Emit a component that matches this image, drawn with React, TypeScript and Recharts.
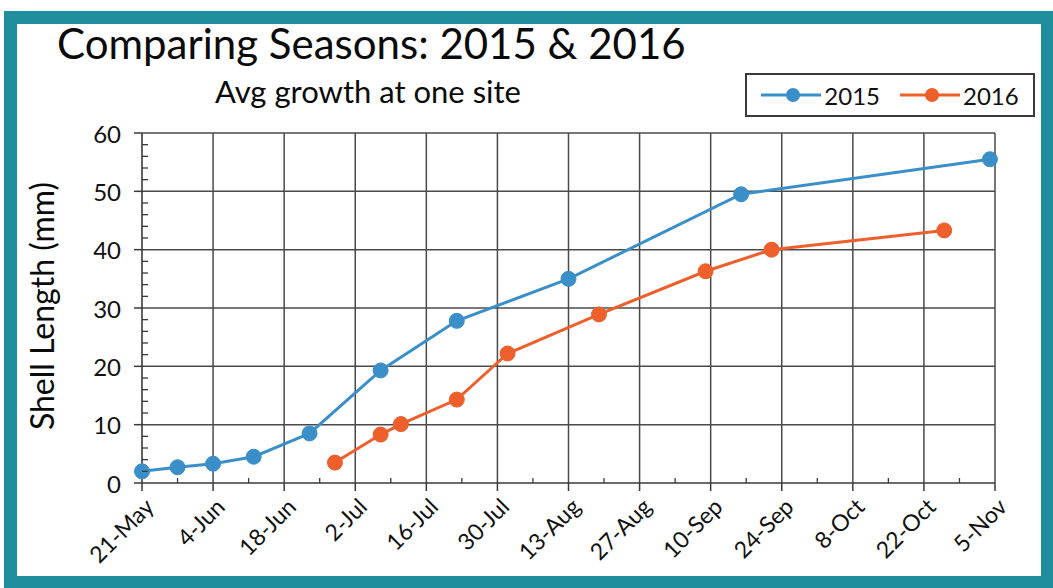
import { LineChart, Line, XAxis, YAxis, ReferenceLine, Legend } from 'recharts';

const MONTHS = ['Jan', 'Feb', 'Mar', 'Apr', 'May', 'Jun', 'Jul', 'Aug', 'Sep', 'Oct', 'Nov', 'Dec'];

const tickLabels = ['21-May', '4-Jun', '18-Jun', '2-Jul', '16-Jul', '30-Jul', '13-Aug', '27-Aug', '10-Sep', '24-Sep', '8-Oct', '22-Oct', '5-Nov'];
const yTicks = [0, 10, 20, 30, 40, 50, 60];

const dates2015 = ['21-May', '28-May', '4-Jun', '12-Jun', '23-Jun', '7-Jul', '22-Jul', '13-Aug', '16-Sep', '4-Nov'];
const lengths2015 = [2.0, 2.7, 3.3, 4.5, 8.5, 19.3, 27.8, 35.0, 49.5, 55.5];

const dates2016 = ['28-Jun', '7-Jul', '11-Jul', '22-Jul', '1-Aug', '19-Aug', '9-Sep', '22-Sep', '26-Oct'];
const lengths2016 = [3.5, 8.3, 10.1, 14.3, 22.2, 28.9, 36.3, 40.0, 43.3];

const BLUE = '#3a8fc9';
const ORANGE = '#ee5f2c';
const TEAL = '#1f8e9c';
const INK = '#3a3a3a';
const FONT = 'Lato, "Open Sans", sans-serif';

// days since the first tick, same calendar for both seasons
const toDay = (s: string) => {
  const [d, m] = s.split('-');
  const start = Date.UTC(2015, 4, 21);
  return Math.round((Date.UTC(2015, MONTHS.indexOf(m), Number(d)) - start) / 86400000);
};

const majorX = tickLabels.map(toDay);
const minorX = majorX.slice(0, -1).map((d) => d + 7);
const allX = [...majorX, ...minorX].sort((a, b) => a - b);
const allY = Array.from({ length: 31 }, (_, i) => i * 2);

const series2015 = dates2015.map((d, i) => ({ day: toDay(d), len: lengths2015[i] }));
const series2016 = dates2016.map((d, i) => ({ day: toDay(d), len: lengths2016[i] }));

function XTick(props: any) {
  const { x, y, payload } = props;
  const idx = majorX.indexOf(payload.value);
  if (idx < 0) {
    return <line x1={x} y1={y} x2={x} y2={y - 5} stroke={INK} strokeWidth={1.3} />;
  }
  return (
    <g>
      <line x1={x} y1={y} x2={x} y2={y + 8} stroke={INK} strokeWidth={1.5} />
      <text
        x={x + 7}
        y={y + 19}
        transform={`rotate(-45, ${x + 7}, ${y + 19})`}
        textAnchor="end"
        dominantBaseline="central"
        fontSize={23}
        fontFamily={FONT}
        fill="#111"
      >
        {tickLabels[idx]}
      </text>
    </g>
  );
}

function YTick(props: any) {
  const { x, y, payload } = props;
  if (payload.value % 10 !== 0) {
    return <line x1={x} y1={y} x2={x + 6} y2={y} stroke={INK} strokeWidth={1.3} />;
  }
  return (
    <g>
      <line x1={x - 8} y1={y} x2={x} y2={y} stroke={INK} strokeWidth={1.5} />
      <text x={x - 21} y={y} textAnchor="end" dominantBaseline="central" fontSize={24} fontFamily={FONT} fill="#111">
        {payload.value}
      </text>
    </g>
  );
}

function LegendBox(props: any) {
  const { payload } = props;
  return (
    <div
      style={{
        width: 290,
        height: 44,
        boxSizing: 'border-box',
        border: `2px solid ${INK}`,
        display: 'flex',
        alignItems: 'center',
        justifyContent: 'center',
        gap: 20,
        fontFamily: FONT,
        fontSize: 24,
        color: '#111',
      }}
    >
      {(payload || []).map((p: any) => (
        <span key={p.value} style={{ display: 'flex', alignItems: 'center' }}>
          <svg width={60} height={20}>
            <line x1={0} y1={10} x2={60} y2={10} stroke={p.color} strokeWidth={3} />
            <circle cx={32} cy={10} r={7} fill={p.color} />
          </svg>
          <span style={{ marginLeft: 3 }}>{p.value}</span>
        </span>
      ))}
    </div>
  );
}

export default function App() {
  return (
    <div style={{ position: 'absolute', left: 0, top: 0, width: 1053, height: 588, background: '#fff', overflow: 'hidden' }}>
      <div
        style={{
          position: 'absolute',
          left: 4,
          top: 11,
          width: 1050,
          height: 578,
          boxSizing: 'border-box',
          border: `13px solid ${TEAL}`,
        }}
      />
      <div style={{ position: 'absolute', left: 57, top: 18, fontFamily: FONT, fontSize: 42, color: '#0a0a0a', whiteSpace: 'nowrap' }}>
        Comparing Seasons: 2015 &amp; 2016
      </div>
      <div style={{ position: 'absolute', left: 215, top: 72, fontFamily: FONT, fontSize: 31, color: '#0a0a0a', whiteSpace: 'nowrap' }}>
        Avg growth at one site
      </div>
      <div style={{ position: 'absolute', left: 0, top: 0 }}>
        <LineChart width={1053} height={588} margin={{ top: 133, right: 58, bottom: 0, left: 0 }}>
          <XAxis
            type="number"
            dataKey="day"
            domain={[0, 168]}
            ticks={allX}
            interval={0}
            height={105}
            tickSize={0}
            tickMargin={0}
            tickLine={false}
            axisLine={{ stroke: INK, strokeWidth: 1.6 }}
            tick={<XTick />}
          />
          <YAxis
            type="number"
            domain={[0, 60]}
            ticks={allY}
            interval={0}
            width={142}
            tickSize={0}
            tickMargin={0}
            tickLine={false}
            axisLine={{ stroke: INK, strokeWidth: 1.6 }}
            tick={<YTick />}
            label={{
              content: ({ viewBox }: any) => {
                const cy = viewBox.y + viewBox.height / 2 - 2;
                return (
                  <text
                    x={41}
                    y={cy}
                    transform={`rotate(-90, 41, ${cy})`}
                    textAnchor="middle"
                    dominantBaseline="central"
                    fontSize={32}
                    fontFamily={FONT}
                    fill="#0a0a0a"
                  >
                    Shell Length (mm)
                  </text>
                );
              },
            }}
          />
          {yTicks.slice(1).map((v) => (
            <ReferenceLine key={`h${v}`} y={v} stroke="#4a4a4a" strokeWidth={1.5} />
          ))}
          {majorX.slice(1).map((d) => (
            <ReferenceLine key={`v${d}`} x={d} stroke="#4a4a4a" strokeWidth={1.5} />
          ))}
          <Legend
            layout="horizontal"
            verticalAlign="middle"
            align="center"
            content={<LegendBox />}
            wrapperStyle={{ left: 745, top: 73, width: 290, height: 44 }}
          />
          <Line
            data={series2015}
            dataKey="len"
            name="2015"
            type="linear"
            stroke={BLUE}
            strokeWidth={3}
            dot={{ r: 7.5, fill: BLUE, stroke: BLUE, strokeWidth: 1 }}
            activeDot={false}
            isAnimationActive={false}
          />
          <Line
            data={series2016}
            dataKey="len"
            name="2016"
            type="linear"
            stroke={ORANGE}
            strokeWidth={3}
            dot={{ r: 7.5, fill: ORANGE, stroke: ORANGE, strokeWidth: 1 }}
            activeDot={false}
            isAnimationActive={false}
          />
        </LineChart>
      </div>
    </div>
  );
}
